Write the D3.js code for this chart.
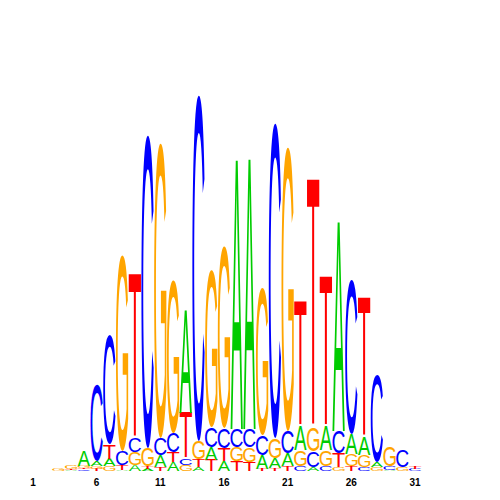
<!DOCTYPE html>
<html><head><meta charset="utf-8">
<script src="https://cdn.jsdelivr.net/npm/d3@7"></script>
<style>body{margin:0;background:#fff}</style>
</head><body>
<svg id="c" width="500" height="500"></svg>
<script>
const positions = d3.range(1, 32);
const letters = ["A", "C", "G", "T"];
// information content per letter (bits), positions 1..31
const valA = [0,0,0,0.005,0.075,0.025,0.035,0.005,0.03,0.01,0.06,0.045,0.515,0.02,0.065,0.05,1.345,1.35,0.07,0.05,0.065,0.12,0.02,0.12,1.045,0.1,0.09,0.025,0.005,0,0];
const valC = [0,0,0,0,0.0075,0.38,0.55,0.07,0.075,1.565,0.085,0.095,0.035,1.73,0.1,0.1,0.09,0.09,0.1,1.575,0.11,0.025,0.08,0.025,0.11,0.77,0.02,0.435,0.02,0.085,0.01];
const valG = [0,0,0.015,0.02,0.0125,0.015,0.025,0.98,0.065,0.09,1.475,0.765,0.03,0.09,0.785,0.91,0.07,0.075,0.74,0.1,1.42,0.08,0.12,0.08,0.02,0.06,0.06,0.02,0.095,0.02,0];
const valT = [0,0,0,0.005,0.0075,0.01,0.07,0.025,0.82,0.015,0.02,0.05,0.225,0.04,0.055,0.065,0.05,0.045,0.01,0.015,0.025,0.625,1.24,0.745,0.07,0.025,0.695,0,0,0,0.015];
const tickLabels = [1, 6, 11, 16, 21, 26, 31];
const colors = {A: "#00cc00", C: "#0000ff", G: "#ffa500", T: "#ff0000"};

const series = {A: valA, C: valC, G: valG, T: valT};
const svg = d3.select("#c");
const x = d3.scaleBand().domain(positions).range([26.6, 421.4]).padding(0);
const y = d3.scaleLinear().domain([0, 2]).range([471, 71]);

const FS = 100;
const fam = "'Liberation Sans', Arial, Helvetica, sans-serif";
const ctx = document.createElement("canvas").getContext("2d");
ctx.font = `normal ${FS}px ${fam}`;
const met = {};
letters.forEach(l => {
  const m = ctx.measureText(l);
  met[l] = {left: m.actualBoundingBoxLeft, right: m.actualBoundingBoxRight,
            asc: m.actualBoundingBoxAscent, desc: m.actualBoundingBoxDescent};
});

const stacks = [];
positions.forEach((p, i) => {
  const items = letters.map(l => ({l, v: series[l][i]})).filter(d => d.v > 0)
    .sort((a, b) => a.v - b.v);
  let cum = 0;
  items.forEach(d => { stacks.push({p, l: d.l, y0: cum, y1: cum + d.v}); cum += d.v; });
});

const bw = x.bandwidth();
const lw = bw * 0.97;
svg.append("g").selectAll("text").data(stacks).join("text")
  .text(d => d.l)
  .attr("font-family", fam)
  .attr("font-weight", "normal")
  .attr("font-size", FS)
  .attr("fill", d => colors[d.l])
  .attr("transform", d => {
    const m = met[d.l];
    const x0 = x(d.p) + (bw - lw) / 2;
    const yTop = y(d.y1), yBot = y(d.y0);
    const sx = lw / (m.left + m.right);
    const sy = (yBot - yTop) / (m.asc + m.desc);
    return `translate(${x0},${yTop}) scale(${sx},${sy}) translate(${m.left},${m.asc})`;
  });

svg.append("g").selectAll("text").data(tickLabels).join("text")
  .attr("x", d => x(d) + bw / 2)
  .attr("y", 486)
  .attr("text-anchor", "middle")
  .attr("font-family", fam)
  .attr("font-weight", "bold")
  .attr("font-size", 10)
  .attr("fill", "#000")
  .text(d => d);
</script>
</body></html>
